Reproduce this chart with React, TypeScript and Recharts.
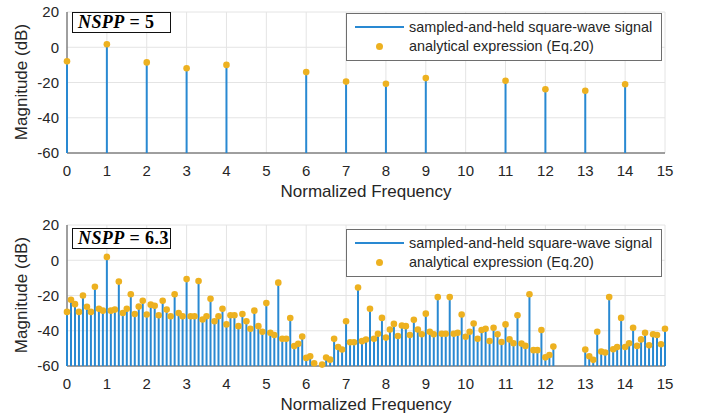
import { CartesianGrid, ReferenceDot, ReferenceLine, Scatter, ScatterChart, XAxis, YAxis } from 'recharts'

// top panel, NSPP = 5: lines only at integer harmonics
const topFreqs = [0, 1, 2, 3, 4, 6, 7, 8, 9, 11, 12, 13, 14]
const topMags = [-8.0, 1.7, -8.6, -11.9, -10.0, -14.1, -19.5, -20.7, -17.5, -19.0, -23.8, -24.7, -21.0]

// bottom panel, NSPP = 6.3: one line every 0.1 (null = below -60 dB, not drawn)
const bottomMags: (number | null)[] = [
  -29.3, -22.4, -24.9, -29.3, -20.0, -26.4, -29.3, -15.0, -27.5, -28.6,
  1.9, -28.6, -28.0, -12.1, -29.9, -27.5, -19.3, -30.5, -26.3, -23.0,
  -30.8, -25.2, -25.8, -31.2, -23.0, -28.0, -31.8, -19.3, -29.9, -31.8,
  -10.7, -31.8, -31.8, -11.8, -33.6, -31.8, -21.9, -34.6, -31.8, -27.5,
  -36.4, -31.2, -31.2, -37.4, -30.5, -34.6, -38.9, -28.6, -37.4, -40.6,
  -24.3, -41.1, -42.4, -12.7, -44.5, -44.5, -32.8, -48.7, -47.4, -43.3,
  -55.4, -54.5, -58.5, null, -59.2, -55.2, -56.4, -44.6, -49.2, -50.6,
  -34.6, -46.5, -46.5, -15.5, -45.9, -45.0, -27.5, -44.5, -41.7, -32.7,
  -43.9, -39.3, -36.1, -43.0, -37.0, -37.4, -42.4, -33.8, -39.3, -42.0,
  -30.3, -40.6, -42.0, -20.9, -41.7, -41.7, -20.9, -41.7, -41.1, -30.8,
  -43.4, -40.6, -35.9, -44.5, -39.6, -38.9, -45.8, -38.3, -42.0, -46.4,
  -36.4, -44.9, -47.1, -31.2, -47.3, -48.6, -19.3, -51.0, -51.0, -39.6,
  -55.1, -53.8, -49.0, null, null, null, null, null, null, null,
  -50.6, -54.5, -56.5, -40.6, -51.8, -52.3, -20.9, -50.5, -49.2, -32.7,
  -49.2, -47.1, -38.3, -48.6, -44.9, -41.1, -48.2, -42.0, -42.4, -47.7,
  -38.9,
]
const bottomFreqs = bottomMags.map((_, i) => i / 10)

const freqTicks = [0, 1, 2, 3, 4, 5, 6, 7, 8, 9, 10, 11, 12, 13, 14, 15]
const magTicks = [-60, -40, -20, 0, 20]

const stemColor = '#2989d2'
const dotColor = '#EDB120'
const textColor = '#262626'
const sansFont = '"Liberation Sans", Arial, Helvetica, sans-serif'

interface Point {
  f: number
  m: number
}

function toPoints(freqs: number[], mags: (number | null)[]): Point[] {
  const out: Point[] = []
  freqs.forEach((f, i) => {
    const m = mags[i]
    if (m !== null && m !== undefined) out.push({ f, m })
  })
  return out
}

interface PanelProps {
  top: number
  points: Point[]
  nspp: string
  boxTop: number
  legendTop: number
}

function StemPanel({ top, points, nspp, boxTop, legendTop }: PanelProps) {
  return (
    <div style={{ position: 'absolute', left: 0, top, width: 708, height: 205 }}>
      <ScatterChart width={708} height={205} margin={{ top: 12, right: 43, bottom: 0, left: 0 }}>
        <CartesianGrid stroke="#e4e4e4" strokeWidth={1} />
        <XAxis
          type="number"
          dataKey="f"
          domain={[0, 15]}
          ticks={freqTicks}
          interval={0}
          height={52}
          stroke="#4d4d4d"
          tickLine={false}
          tickMargin={6}
          tick={{ fontSize: 15, fill: textColor, fontFamily: sansFont }}
        />
        <YAxis
          type="number"
          dataKey="m"
          domain={[-60, 20]}
          ticks={magTicks}
          interval={0}
          width={67}
          stroke="#4d4d4d"
          tickLine={false}
          tick={{ fontSize: 15, fill: textColor, fontFamily: sansFont }}
        />
        {/* carries the data for the axes; the marks themselves are drawn below so the edge dots are not clipped */}
        <Scatter data={points} isAnimationActive={false} shape={() => <g />} legendType="none" />
        {points.map((p) => (
          <ReferenceLine
            key={`stem-${p.f}`}
            segment={[
              { x: p.f, y: -60 },
              { x: p.f, y: p.m },
            ]}
            stroke={stemColor}
            strokeWidth={2}
            ifOverflow="visible"
            zIndex={1900}
          />
        ))}
        {points.map((p) => (
          <ReferenceDot
            key={`dot-${p.f}`}
            x={p.f}
            y={p.m}
            r={3.3}
            fill={dotColor}
            stroke="none"
            ifOverflow="visible"
            zIndex={2000}
          />
        ))}
      </ScatterChart>

      <div
        style={{
          position: 'absolute',
          left: 0,
          top: 182,
          width: 708 + 67 - 43,
          textAlign: 'center',
          fontFamily: sansFont,
          fontSize: 17,
          color: textColor,
          lineHeight: '20px',
        }}
      >
        Normalized Frequency
      </div>
      <div
        style={{
          position: 'absolute',
          left: 22 - 80,
          top: 82 - 10,
          width: 160,
          textAlign: 'center',
          transform: 'rotate(-90deg)',
          fontFamily: sansFont,
          fontSize: 17,
          color: textColor,
          lineHeight: '20px',
        }}
      >
        Magnitude (dB)
      </div>

      <div
        style={{
          position: 'absolute',
          left: 72,
          top: boxTop,
          width: 92,
          height: 19,
          border: '1.5px solid #111',
          background: '#fff',
          fontFamily: '"Liberation Serif", "Times New Roman", serif',
          fontWeight: 'bold',
          fontSize: 18,
          letterSpacing: 0.4,
          lineHeight: '19px',
          color: '#000',
          paddingLeft: 5,
          whiteSpace: 'nowrap',
          boxSizing: 'content-box',
        }}
      >
        <i>NSPP</i> = {nspp}
      </div>

      <div
        style={{
          position: 'absolute',
          left: 346,
          top: legendTop,
          width: 314,
          height: 46,
          border: '1px solid #6e6e6e',
          background: '#fff',
          fontFamily: sansFont,
          fontSize: 14.4,
          color: textColor,
        }}
      >
        <div style={{ position: 'absolute', left: 8, top: 12, width: 49, height: 2, background: stemColor }} />
        <div style={{ position: 'absolute', left: 62, top: 3, lineHeight: '20px', whiteSpace: 'nowrap' }}>
          sampled-and-held square-wave signal
        </div>
        <div
          style={{
            position: 'absolute',
            left: 29,
            top: 29,
            width: 7,
            height: 7,
            borderRadius: '50%',
            background: dotColor,
          }}
        />
        <div style={{ position: 'absolute', left: 62, top: 22, lineHeight: '20px', whiteSpace: 'nowrap' }}>
          analytical expression (Eq.20)
        </div>
      </div>
    </div>
  )
}

export default function App() {
  const topPoints = toPoints(topFreqs, topMags)
  const bottomPoints = toPoints(bottomFreqs, bottomMags)
  return (
    <div style={{ position: 'absolute', left: 0, top: 0, width: 708, height: 420, background: '#fff', overflow: 'hidden' }}>
      <StemPanel top={0} points={topPoints} nspp="5" boxTop={12} legendTop={13} />
      <StemPanel top={213} points={bottomPoints} nspp="6.3" boxTop={15} legendTop={16} />
    </div>
  )
}
